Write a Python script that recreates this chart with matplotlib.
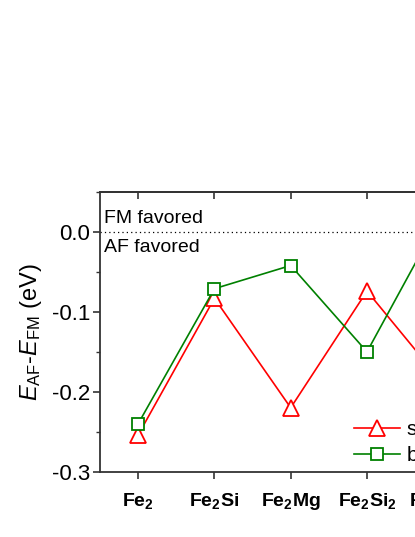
"""
E_AF - E_FM 비교 그래프 (오른쪽이 잘린 원본 재현)
"""

import matplotlib
matplotlib.use('Agg')
import matplotlib.pyplot as plt
from matplotlib.ticker import MultipleLocator

plt.rcParams['font.family'] = ['Liberation Sans', 'DejaVu Sans']
plt.rcParams['mathtext.fontset'] = 'custom'
plt.rcParams['mathtext.rm'] = 'Liberation Sans'
plt.rcParams['mathtext.it'] = 'Liberation Sans:italic'
plt.rcParams['mathtext.bf'] = 'Liberation Sans:bold'

# 데이터
categories = [r'$\mathbf{Fe_2}$', r'$\mathbf{Fe_2Si}$', r'$\mathbf{Fe_2Mg}$',
              r'$\mathbf{Fe_2Si_2}$', r'$\mathbf{Fe_2Mg_2}$']
series_s = [-0.254, -0.083, -0.220, -0.074, -0.190]
series_b = [-0.240, -0.071, -0.042, -0.150, 0.025]
label_s = 'surface'
label_b = 'bulk'

spine_color = '#333333'

fig = plt.figure(figsize=(4.15, 5.37), dpi=100)
ax = fig.add_axes([0.241, 0.1216, 0.919, 0.5209])

x = list(range(len(categories)))
ax.plot(x, series_s, color='#ff0000', lw=1.2, marker='^', markersize=12,
        markerfacecolor='white', markeredgecolor='#ff0000', markeredgewidth=1.3,
        label=label_s)
ax.plot(x, series_b, color='#008000', lw=1.2, marker='s', markersize=8,
        markerfacecolor='white', markeredgecolor='#008000', markeredgewidth=1.3,
        label=label_b)

ax.axhline(0.0, color='black', lw=0.9, ls=(0, (1, 2.5)))
ax.text(-0.45, 0.006, 'FM favored', fontsize=14, ha='left', va='bottom')
ax.text(-0.45, -0.009, 'AF favored', fontsize=14, ha='left', va='top')

ax.set_xlim(-0.5, 4.5)
ax.set_ylim(-0.3, 0.05)
ax.set_xticks(x)
ax.set_xticklabels(categories, fontsize=14)
ax.set_yticks([-0.3, -0.2, -0.1, 0.0])
ax.set_yticklabels(['-0.3', '-0.2', '-0.1', '0.0'], fontsize=16)
ax.yaxis.set_minor_locator(MultipleLocator(0.05))

ax.tick_params(axis='x', which='major', direction='out', length=5, width=1.2,
               color=spine_color, pad=9)
ax.tick_params(axis='y', which='major', direction='out', length=5, width=1.2,
               color=spine_color, pad=2)
ax.tick_params(axis='y', which='minor', direction='out', length=3, width=1.0,
               color=spine_color)

# 위쪽 눈금은 안쪽으로
top = ax.secondary_xaxis('top')
top.set_xticks(x)
top.set_xticklabels([])
top.tick_params(direction='in', length=5, width=1.2, color=spine_color)
top.spines['top'].set_color(spine_color)
top.spines['top'].set_linewidth(1.3)

for sp in ax.spines.values():
    sp.set_color(spine_color)
    sp.set_linewidth(1.3)

ax.set_ylabel(r'$\mathit{E}_{\mathrm{AF}}$-$\mathit{E}_{\mathrm{FM}}$ (eV)', fontsize=17, labelpad=6)

ax.legend(loc='upper left', bbox_to_anchor=(0.667, 0.185), frameon=False, fontsize=15,
          borderpad=0, handlelength=2.2, handletextpad=0.3, labelspacing=0.35,
          borderaxespad=0)

fig.savefig('out.png', dpi=100)
